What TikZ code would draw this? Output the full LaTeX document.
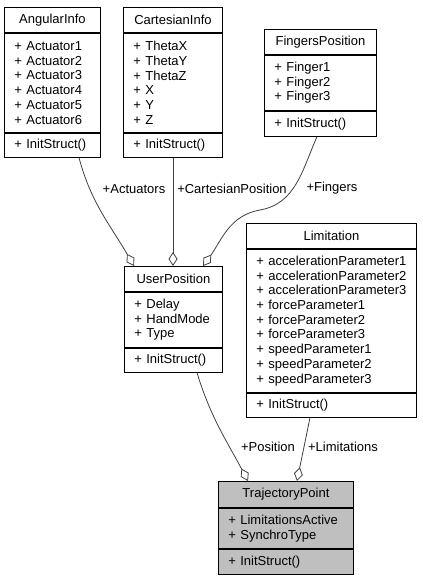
\documentclass[tikz,border=0pt]{standalone}
\usepackage{fontspec}
\setmainfont{Liberation Sans}
\usetikzlibrary{arrows.meta,positioning}
\definecolor{edgegray}{RGB}{64,64,64}
\definecolor{focusgray}{RGB}{191,191,191}

\begin{document}
\begin{tikzpicture}[x=1pt,y=1pt,
  clshead/.style={draw,fill=white,line width=0.9pt,inner sep=0pt,
    minimum height=25pt,font=\fontsize{13}{14.7}\selectfont},
  clsbody/.style={clshead,align=left,inner xsep=10pt,text width=#1},
  aggr/.style={draw=edgegray,line width=0.8pt,
    -{Diamond[open,length=14pt,width=9pt]}},
  role/.style={font=\fontsize{13}{14.7}\selectfont,inner sep=0pt}]
\useasboundingbox (0,0) rectangle (423,579);

% classes
\node[clshead,minimum width=96pt,anchor=north west] (angular) at (4,572) {AngularInfo};
\node[clsbody=76pt,minimum height=99pt,below=0pt of angular] (angular-a)
  {+ Actuator1\\+ Actuator2\\+ Actuator3\\+ Actuator4\\+ Actuator5\\+ Actuator6};
\node[clsbody=76pt,minimum height=24pt,below=0pt of angular-a] (angular-m) {+ InitStruct()};

\node[clshead,minimum width=99pt,anchor=north west] (cartesian) at (123,572) {CartesianInfo};
\node[clsbody=79pt,minimum height=99pt,below=0pt of cartesian] (cartesian-a)
  {+ ThetaX\\+ ThetaY\\+ ThetaZ\\+ X\\+ Y\\+ Z};
\node[clsbody=79pt,minimum height=24pt,below=0pt of cartesian-a] (cartesian-m) {+ InitStruct()};

\node[clshead,minimum width=112pt,anchor=north west] (fingers) at (264,550) {FingersPosition};
\node[clsbody=92pt,minimum height=55pt,below=0pt of fingers] (fingers-a)
  {+ Finger1\\+ Finger2\\+ Finger3};
\node[clsbody=92pt,minimum height=25pt,below=0pt of fingers-a] (fingers-m) {+ InitStruct()};

\node[clshead,minimum width=170pt,anchor=north west] (limitation) at (246,356) {Limitation};
\node[clsbody=150pt,minimum height=143pt,below=0pt of limitation] (limitation-a)
  {+ accelerationParameter1\\+ accelerationParameter2\\+ accelerationParameter3\\
   + forceParameter1\\+ forceParameter2\\+ forceParameter3\\
   + speedParameter1\\+ speedParameter2\\+ speedParameter3};
\node[clsbody=150pt,minimum height=24pt,below=0pt of limitation-a] (limitation-m) {+ InitStruct()};

\node[clshead,minimum width=98pt,anchor=north west] (user) at (124,313) {UserPosition};
\node[clsbody=78pt,minimum height=55pt,below=0pt of user] (user-a)
  {+ Delay\\+ HandMode\\+ Type};
\node[clsbody=78pt,minimum height=24pt,below=0pt of user-a] (user-m) {+ InitStruct()};

\node[clshead,fill=focusgray,minimum width=135pt,minimum height=26pt,anchor=north west] (traj) at (218,98) {TrajectoryPoint};
\node[clsbody=115pt,fill=focusgray,minimum height=40pt,below=0pt of traj] (traj-a)
  {+ LimitationsActive\\+ SynchroType};
\node[clsbody=115pt,fill=focusgray,minimum height=25pt,below=0pt of traj-a] (traj-m) {+ InitStruct()};

% aggregations
\draw[aggr] ([xshift=75pt]angular-m.south west) to[out=-75,in=120] ([xshift=10pt]user.north west);
\draw[aggr] ([xshift=50pt]cartesian-m.south west) -- ([xshift=49pt]user.north west);
\draw[aggr] ([xshift=53pt]fingers-m.south west) to[out=-114,in=10] (260,369)
  to[out=190,in=54] ([xshift=79pt]user.north west);
\draw[aggr] ([xshift=73pt]user-m.south west) to[out=-73,in=118] ([xshift=30pt]traj.north west);
\draw[aggr] ([xshift=64pt]limitation-m.south west) -- ([xshift=79pt]traj.north west);

% roles
\node[role] (r-act) at (134,390) {+Actuators};
\node[role] (r-cart) at (232,390) {+CartesianPosition};
\node[role] (r-fing) at (332,391) {+Fingers};
\node[role] (r-pos) at (268,132) {+Position};
\node[role] (r-lim) at (343,132) {+Limitations};
\end{tikzpicture}
\end{document}
